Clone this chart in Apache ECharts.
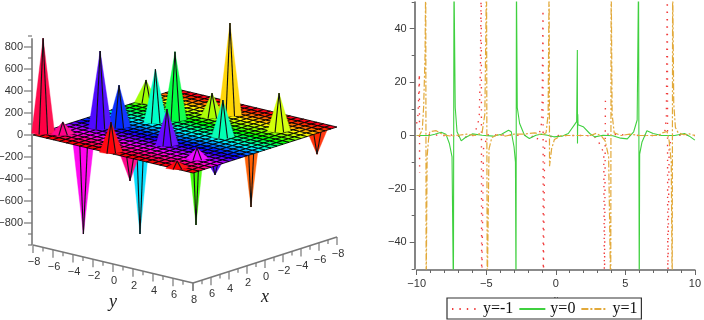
<!DOCTYPE html>
<html><head><meta charset="utf-8">
<style>html,body{margin:0;padding:0;background:#fff}#c{width:704px;height:320px;filter:blur(0.45px)}</style>
<script src="https://cdn.jsdelivr.net/npm/echarts@6/dist/echarts.min.js"></script>
</head><body><div id="c"></div>
<script>
// --- left panel: surface peaks
const upX = [7.1, 3.43, 2.33, -3.94, -0.38, -1.72, -5.33, -4.07, -0.6, -4.45, 3.65, 7.7, 6.4, 5.0, 7.76];
const upY = [-7.8, -5.4, -4.5, -7.45, -3.3, -2.55, -0.3, -0.96, 3.25, 5.4, 1.48, -0.47, -6.46, 5.7, 6.2];
const upZ = [860, 700, 380, 200, 480, 620, 836, 218, 336, 345, 327, 272, 110, 100, 65];
const downX = [5.4, 0.5, -3, -6.5, -7, 6.4, 3.5];
const downY = [-5.3, -4.05, -1.6, 0.75, 6.9, 0.26, 6.15];
const downZ = [-910, -1010, -967, -845, -245, -280, -175];
const zMajor = [800, 600, 400, 200, 0, -200, -400, -600, -800];
const zMinor = [900, 700, 500, 300, 100, -100, -300, -500, -700, -900, -1000];
const xyMajor = [-8, -6, -4, -2, 0, 2, 4, 6, 8];
const xyMinor = [-7, -5, -3, -1, 1, 3, 5, 7];
const floorCells = 24;

// --- right panel: curves
const yMinus1 = [[-10,4.5],[-9.9,8],[-9.81,23],[-9.79,-14],[-9.75,null],[-9.15,0.3],[-8,0],[-7.4,0.2],[-6.6,-0.6],[-6,-0.3],[-5.8,1.5],[-5.6,4],[-5.5,8],[-5.42,25],[-5.36,60],[-5.33,-60],[-5.2,-5],[-4.9,0.2],[-4.2,0.2],[-3.2,0.2],[-2.5,0],[-1.8,0.1],[-1.35,-1.7],[-1.05,3],[-0.98,12],[-0.92,47],[-0.9,-60],[-0.8,-3],[-0.5,-0.5],[0.2,0],[1,0],[2.2,0],[2.8,-0.5],[3.1,-2.6],[3.45,-6.5],[3.5,-60],[3.57,15],[3.6,null],[3.7,0.5],[4.5,0.3],[5.2,0.2],[6,0],[7,0],[7.6,0.2],[7.85,1.8],[7.95,7],[8.02,60],[8.05,-60],[8.15,-4],[8.4,0],[9,0.1],[10,0]];
const yZero = [[-10,0],[-9.06,0],[-8.7,0.5],[-8.24,1.25],[-7.9,0.5],[-7.65,-3],[-7.46,-8],[-7.36,-60],[-7.32,60],[-7.23,10.5],[-7.1,1.4],[-6.8,-2],[-6.5,-0.75],[-6,0.6],[-5.3,0.1],[-4.5,-0.25],[-3.9,0.5],[-3.4,2],[-3.2,1.4],[-3,-4.3],[-2.9,-10],[-2.86,-60],[-2.83,60],[-2.77,10.5],[-2.6,4.5],[-2.25,0.1],[-1.9,-1.1],[-1.43,0.1],[-1.08,0.5],[-0.6,0.1],[-0.14,-0.5],[0.45,-0.25],[0.9,0.75],[1.5,5.2],[1.55,32],[1.56,-3],[1.58,8],[1.6,4],[1.97,3.3],[2.44,0.75],[2.8,-0.5],[3.4,0.1],[4.1,-0.1],[4.67,-1],[5.14,-1.25],[5.6,1.4],[5.85,5.8],[5.95,60],[6,-60],[6.03,-7],[6.2,-2.4],[6.55,1.75],[7,0.75],[7.6,0],[8.55,0],[9.25,0.75],[9.6,-0.25],[10,-1.75]];
const yPlus1 = [[-10,0],[-9.8,0.1],[-9.6,2],[-9.5,10.8],[-9.4,30],[-9.35,60],[-9.32,-60],[-9.25,-8],[-9.15,-1.5],[-9.06,1.4],[-8.6,1.8],[-8.1,0.3],[-7.6,-0.2],[-7,0.1],[-6.4,0.5],[-5.8,0],[-5.3,1],[-5.1,8],[-4.98,60],[-4.93,-60],[-4.8,-5],[-4.6,-0.8],[-4.2,0.3],[-3.6,-0.2],[-3,0.5],[-2.4,0.5],[-1.5,1],[-1,0.2],[-0.7,1],[-0.55,8],[-0.48,60],[-0.45,-11.5],[-0.3,-5],[-0.1,-1.5],[0.4,0],[1.3,0],[1.9,0],[2.5,0],[2.9,0.8],[3.3,-0.3],[3.55,-2],[3.8,-8],[3.95,-60],[3.98,60],[4.05,8],[4.2,1],[4.7,0],[5.3,0.5],[6,0],[7.4,0],[7.6,0.9],[8,1.5],[8.15,-2],[8.3,-10],[8.37,-60],[8.4,60],[8.48,12],[8.6,3],[8.8,1],[9.2,0.3],[9.6,0.6],[10,0]];
const rightMajorY = [-40, -20, 0, 20, 40];
const rightMinorY = [-50, -30, -10, 10, 30, 50];

// --- view of the 3D box, projected onto a hidden cartesian plane
const view = {cx:185, cy:131, xs:[-9,2.875], ys:[10,2.375], zs:-0.11};
const project = (x,y,z) => [view.cx+view.xs[0]*x+view.ys[0]*y, view.cy+view.xs[1]*x+view.ys[1]*y+view.zs*z];
const hue = x => ((176+23.7*x)%360+360)%360;
const color = (x,l) => `hsl(${hue(x).toFixed(0)},100%,${l}%)`;
const depth = r => view.xs[1]*r[0]+view.ys[1]*r[1];
const fmt = v => String(v).replace('-','\u2212');

const spikeBase = [[0.6,-0.6],[0.5,0.05],[0.05,0.5],[-0.6,0.6]];
function spikeItem(params, api){
  const x=api.value(0), y=api.value(1), z=api.value(2);
  const apex = api.coord(project(x,y,z));
  const base = spikeBase.map(o=>api.coord(project(x+o[0],y+o[1],0)));
  const faces = [[0,1,52],[1,2,50],[2,3,54]].map(f=>({type:'polygon',
    shape:{points:[apex,base[f[0]],base[f[1]]]},
    style:{fill:color(x,f[2]),stroke:color(x,f[2]),lineWidth:0.4}}));
  const ridges = [1,2].map(i=>({type:'line',
    shape:{x1:apex[0],y1:apex[1],x2:base[i][0],y2:base[i][1]},
    style:{stroke:'#111',lineWidth:1.1}}));
  return {type:'group',children:faces.concat(ridges)};
}
const floorData = [];
const step = 16/floorCells;
for(let i=0;i<floorCells;i++) for(let j=0;j<floorCells;j++) floorData.push([-8+i*step,-8+j*step]);
floorData.sort((a,b)=>depth(a)-depth(b));
function floorItem(params, api){
  const x=api.value(0), y=api.value(1);
  const pts=[[x,y],[x+step,y],[x+step,y+step],[x,y+step]].map(p=>api.coord(project(p[0],p[1],0)));
  return {type:'polygon',shape:{points:pts},style:{fill:color(x+step/2,50),stroke:'#000',lineWidth:0.85}};
}
const zip = (a,b,c)=>a.map((v,i)=>[v,b[i],c[i]]);
const ups = zip(upX,upY,upZ).sort((a,b)=>depth(a)-depth(b));
const downs = zip(downX,downY,downZ).sort((a,b)=>depth(a)-depth(b));

const axisGray = '#777';
const boxBottom = -1000;
function seg(api,a,b,w){
  const p=api.coord(a), q=api.coord(b);
  return {type:'line',shape:{x1:p[0],y1:p[1],x2:q[0],y2:q[1]},style:{stroke:axisGray,lineWidth:w||1.2}};
}
function label(api,p,text,size,extra){
  const c=api.coord(p);
  return {type:'text',style:Object.assign({x:c[0],y:c[1],text:text,fontSize:size,fontFamily:'Liberation Sans',fill:'#333',align:'center',verticalAlign:'middle'},extra||{})};
}
// kind: 0 z, 1 x-edge, 2 y-edge; major flag
function axisItem(params, api){
  const kind=api.value(0), v=api.value(1), major=api.value(2);
  const len=major?8:4;
  if(kind===0){
    const o=project(8,-8,v);
    const kids=[seg(api,[o[0]-len-1,o[1]],[o[0]-1,o[1]])];
    if(major) kids.push(label(api,[o[0]-10,o[1]],fmt(v),11,{align:'right'}));
    return {type:'group',children:kids};
  }
  const o=kind===1?project(v,8,boxBottom):project(8,v,boxBottom);
  const kids=[seg(api,o,[o[0],o[1]+len])];
  if(major && !(kind===1 && v===8)) kids.push(label(api,[o[0]+1,o[1]+17],fmt(v),11));
  return {type:'group',children:kids};
}
const axisData=[];
zMajor.forEach(v=>axisData.push([0,v,1]));
zMinor.forEach(v=>axisData.push([0,v,0]));
xyMajor.forEach(v=>{axisData.push([1,v,1]);axisData.push([2,v,1]);});
xyMinor.forEach(v=>{axisData.push([1,v,0]);axisData.push([2,v,0]);});
function boxItem(params, api){
  const a=project(8,-8,boxBottom), b=project(8,8,boxBottom), c=project(-8,8,boxBottom), t=project(8,-8,880);
  const sx=[t[0]-1,t[1]], sb=[a[0]-1,a[1]];
  return {type:'group',children:[
    seg(api,a,b,1.6),seg(api,b,c,1.6),seg(api,sx,sb,1.6),
    label(api,[113,302],'y',18,{fontFamily:'Liberation Serif',fontStyle:'italic',fill:'#222'}),
    label(api,[265,297],'x',18,{fontFamily:'Liberation Serif',fontStyle:'italic',fill:'#222'})
  ]};
}
const custom=(data,fn)=>({type:'custom',coordinateSystem:'cartesian2d',xAxisIndex:0,yAxisIndex:0,
  data:data,renderItem:fn,silent:true,animation:false,clip:false,legendHoverLink:false});

const chart=echarts.init(document.getElementById('c'),null,{renderer:'canvas'});
chart.setOption({
  animation:false,
  backgroundColor:'#fff',
  grid:[{left:0,top:0,width:352,height:320},{left:416.7,right:3.3,top:2,bottom:51}],
  xAxis:[
    {gridIndex:0,type:'value',min:0,max:352,show:false},
    {gridIndex:1,type:'value',min:-10,max:10,interval:5,position:'bottom',offset:1,
     splitLine:{show:false},
     axisLine:{onZero:false,lineStyle:{color:'#666',width:1.6}},
     axisTick:{length:5,lineStyle:{color:'#666',width:1}},
     minorTick:{show:true,splitNumber:5,length:3,lineStyle:{color:'#666',width:1}},
     axisLabel:{color:'#333',fontSize:11,fontFamily:'Liberation Sans',margin:8,formatter:fmt,showMinLabel:true,showMaxLabel:true,hideOverlap:false},
     name:'x',nameLocation:'middle',nameGap:20,nameTextStyle:{fontFamily:'Liberation Serif',fontStyle:'italic',fontSize:10,color:'#333'}}
  ],
  yAxis:[
    {gridIndex:0,type:'value',min:0,max:320,inverse:true,show:false},
    {gridIndex:1,type:'value',min:-50,max:50,interval:10,position:'left',offset:2,
     splitLine:{show:false},
     axisLine:{onZero:false,lineStyle:{color:'#666',width:1.6}},
     axisTick:{length:5,customValues:rightMajorY,lineStyle:{color:'#666',width:1}},
     axisLabel:{color:'#333',fontSize:11,fontFamily:'Liberation Sans',margin:8,customValues:rightMajorY,formatter:fmt}},
    {gridIndex:1,type:'value',min:-50,max:50,interval:10,position:'left',offset:2,
     splitLine:{show:false},axisLine:{show:false,onZero:false},
     axisTick:{length:3,customValues:rightMinorY,lineStyle:{color:'#666',width:1}},
     axisLabel:{show:false}}
  ],
  legend:{left:447,top:298,orient:'horizontal',padding:[3,4,2,4],itemGap:5,itemWidth:26,itemHeight:16,
    borderColor:'#333',borderWidth:1.2,backgroundColor:'#fff',
    itemStyle:{color:'rgba(0,0,0,0)',borderWidth:0},
    textStyle:{fontFamily:'Liberation Serif',fontSize:16,color:'#111'},
    data:['y=-1','y=0','y=1']},
  series:[
    custom(axisData,axisItem),
    custom([[0]],boxItem),
    custom(downs,spikeItem),
    custom(floorData,floorItem),
    custom(ups,spikeItem),
    {name:'y=-1',type:'line',xAxisIndex:1,yAxisIndex:1,data:yMinus1,showSymbol:false,symbol:'none',
     lineStyle:{color:'#f03c3c',width:1.4,type:[1.4,6]},itemStyle:{color:'#f03c3c'}},
    {name:'y=0',type:'line',xAxisIndex:1,yAxisIndex:1,data:yZero,showSymbol:false,symbol:'none',
     lineStyle:{color:'#3fd03f',width:1.1},itemStyle:{color:'#3fd03f'}},
    {name:'y=1',type:'line',xAxisIndex:1,yAxisIndex:1,data:yPlus1,showSymbol:false,symbol:'none',
     lineStyle:{color:'#e2a93a',width:1.2,type:[7,2,2,2]},itemStyle:{color:'#e2a93a'}}
  ]
});
</script></body></html>
